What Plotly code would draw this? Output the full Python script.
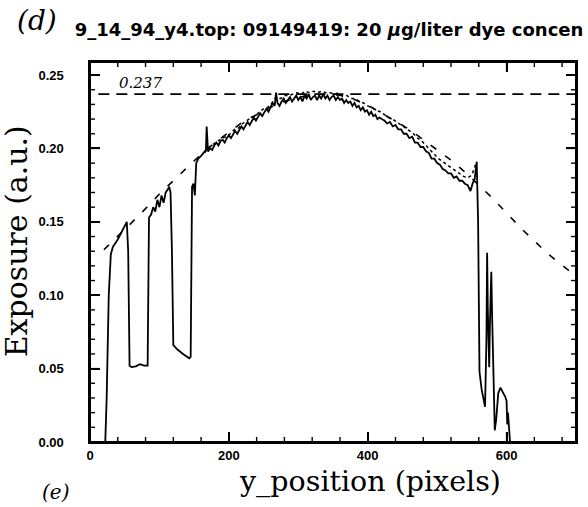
import plotly.graph_objects as go

# ---- solid trace (scan profile) ----
solid_x = [0, 22, 24, 27, 30, 33, 40, 48, 53, 55, 57, 60, 66, 72, 78, 83, 84, 85, 88, 91, 94, 97,
           100, 103, 106, 109, 112, 114, 116, 118, 120, 126, 134, 143, 145, 147, 149, 151, 153,
           156, 160, 164, 167, 168, 169,
           170, 173, 176, 179, 182, 185, 188, 191, 194, 197, 200, 203, 206, 209, 212, 215, 218,
           221, 224, 227, 230, 233, 236, 239, 242, 245, 248, 251, 254, 257, 260, 263, 266, 268,
           270, 273, 276, 279, 282, 285, 288, 291, 294, 297, 300, 303, 306, 309, 312, 315, 318,
           321, 324, 327, 330, 333, 336, 339, 342, 345, 348, 351, 354, 357, 360, 363, 366, 369,
           372, 375, 378, 381, 384, 387, 390, 393, 396, 399, 402, 405, 408, 411, 414, 417,
           420, 424, 428, 432, 436, 440, 444, 448, 452, 456, 460, 464, 468, 472, 476, 480, 484,
           488, 492, 496, 500, 504, 508, 512, 516, 520, 524, 528, 532, 536, 540, 544, 548, 551,
           554, 557, 559, 560, 561, 564, 567, 569, 571, 572, 573, 575, 576, 578, 579, 581, 583,
           585, 588, 591, 595, 598, 600, 601, 602, 604, 605, 700]
solid_y = [0.0, 0.0, 0.03, 0.10, 0.128, 0.133, 0.138, 0.145, 0.150, 0.130, 0.052, 0.051, 0.0515,
           0.053, 0.052, 0.052, 0.12, 0.153, 0.155, 0.160, 0.157, 0.165, 0.160, 0.168, 0.163,
           0.170, 0.172, 0.174, 0.170, 0.13, 0.066, 0.063, 0.060, 0.057, 0.058, 0.174, 0.176,
           0.168, 0.190, 0.193, 0.195, 0.197, 0.199, 0.215, 0.199,
           0.198, 0.200, 0.199, 0.202, 0.204, 0.202, 0.205, 0.206, 0.204, 0.207, 0.209, 0.207,
           0.210, 0.212, 0.210, 0.213, 0.215, 0.213, 0.216, 0.218, 0.216, 0.219, 0.221, 0.219,
           0.222, 0.224, 0.222, 0.225, 0.227, 0.225, 0.228, 0.231, 0.229, 0.238,
           0.231, 0.229, 0.232, 0.234, 0.231, 0.233, 0.235, 0.232, 0.234, 0.236, 0.233, 0.235,
           0.232, 0.236, 0.234, 0.237, 0.233, 0.235, 0.236, 0.233, 0.236, 0.234, 0.237, 0.234,
           0.236, 0.233, 0.235, 0.236, 0.233, 0.235, 0.233, 0.234, 0.231, 0.233, 0.231, 0.232,
           0.229, 0.231, 0.228, 0.229, 0.226, 0.228, 0.225, 0.226, 0.223, 0.225, 0.222, 0.223,
           0.220, 0.221,
           0.220, 0.219, 0.217, 0.218, 0.215, 0.216, 0.213, 0.213, 0.210, 0.210, 0.207, 0.208,
           0.204, 0.204, 0.201, 0.201, 0.198, 0.197, 0.193, 0.193, 0.190, 0.189, 0.186, 0.185,
           0.183, 0.183, 0.180, 0.181, 0.178, 0.178, 0.176, 0.175, 0.171, 0.176,
           0.179, 0.191, 0.150, 0.080, 0.048, 0.036, 0.028, 0.024, 0.070, 0.129, 0.090, 0.051,
           0.080, 0.116, 0.090, 0.040, 0.008,
           0.015, 0.033, 0.037, 0.034, 0.031, 0.028, 0.012, 0.020, 0.006, 0.0, 0.0]

# ---- dotted trace (second scan) ----
dot_x = [165, 172, 178, 184, 190, 196, 202, 208, 214, 220, 226, 232, 238, 244, 250, 256, 262,
         268, 274, 280, 286, 292, 298, 304, 310, 316, 322, 328, 334, 340, 346, 352, 358, 364,
         370, 376, 382, 388, 394, 400, 406, 412, 418, 424, 430, 436, 442, 448, 454, 460, 466,
         472, 478, 484, 490, 496, 502, 508, 514, 520, 526, 532, 538, 544, 550, 556]
dot_y = [0.197, 0.201, 0.203, 0.205, 0.207, 0.208, 0.210, 0.213, 0.214, 0.217, 0.219, 0.221,
         0.222, 0.225, 0.227, 0.228, 0.231, 0.235, 0.234, 0.236, 0.236, 0.237, 0.238, 0.237,
         0.239, 0.238, 0.239, 0.238, 0.239, 0.238, 0.238, 0.237, 0.238, 0.236, 0.236, 0.234,
         0.234, 0.232, 0.231, 0.229, 0.228, 0.226, 0.225, 0.223, 0.221, 0.220, 0.218, 0.216,
         0.214, 0.212, 0.210, 0.207, 0.205, 0.202, 0.199, 0.196, 0.193, 0.191, 0.189, 0.187,
         0.185, 0.183, 0.181, 0.180, 0.182, 0.190]

# ---- fitted envelope (dashed) ----
fit_x = [20, 40, 60, 80, 100, 120, 140, 160, 180, 200, 220, 240, 260, 280, 300, 320, 340, 360,
         380, 400, 420, 440, 460, 480, 500, 520, 540, 560, 580, 600, 620, 640, 660, 680, 700]
fit_y = [0.131, 0.140, 0.1495, 0.159, 0.169, 0.178, 0.187, 0.196, 0.204, 0.211, 0.218, 0.223,
         0.228, 0.232, 0.2348, 0.2365, 0.237, 0.2362, 0.2335, 0.2295, 0.224, 0.219, 0.213,
         0.206, 0.199, 0.192, 0.184, 0.175, 0.166, 0.156, 0.146, 0.137, 0.128, 0.1205, 0.113]

# ---- reference level ----
ref_level = 0.237
ref_x = [12, 700]

# ---- axes ----
x_ticks = [0, 200, 400, 600]
y_ticks = [0.00, 0.05, 0.10, 0.15, 0.20, 0.25]
x_minor_step = 40
y_minor_step = 0.01
X_RANGE = [0, 700]
Y_RANGE = [0, 0.2589]

# plot-area geometry (pixels) used to size the frame tick marks in data units
PLOT_W, PLOT_H = 488, 380
MAJOR_LEN, MINOR_LEN = 10, 5
xu = (X_RANGE[1] - X_RANGE[0]) / PLOT_W   # data units per pixel, x
yu = (Y_RANGE[1] - Y_RANGE[0]) / PLOT_H   # data units per pixel, y

x_minor = [v for v in range(X_RANGE[0], X_RANGE[1] + 1, x_minor_step) if v not in x_ticks]
y_minor = [round(i * y_minor_step, 2) for i in range(int(Y_RANGE[1] / y_minor_step) + 1)
           if round(i * y_minor_step, 2) not in y_ticks]


def tick_segments():
    tx, ty = [], []
    for vals, ln in ((x_ticks, MAJOR_LEN), (x_minor, MINOR_LEN)):
        for v in vals:
            tx += [v, v, None, v, v, None]
            ty += [Y_RANGE[0], Y_RANGE[0] + ln * yu, None, Y_RANGE[1], Y_RANGE[1] - ln * yu, None]
    for vals, ln in ((y_ticks, MAJOR_LEN), (y_minor, MINOR_LEN)):
        for v in vals:
            tx += [X_RANGE[0], X_RANGE[0] + ln * xu, None, X_RANGE[1], X_RANGE[1] - ln * xu, None]
            ty += [v, v, None, v, v, None]
    return tx, ty


fig = go.Figure()
fig.add_trace(go.Scatter(x=fit_x, y=fit_y, mode="lines",
                         line=dict(color="black", width=1.6, dash="7px,11px"), showlegend=False))
fig.add_trace(go.Scatter(x=ref_x, y=[ref_level, ref_level], mode="lines",
                         line=dict(color="black", width=1.8, dash="11px,7px"), showlegend=False))
fig.add_trace(go.Scatter(x=dot_x, y=dot_y, mode="lines",
                         line=dict(color="black", width=1.5, dash="dot"), showlegend=False))
fig.add_trace(go.Scatter(x=solid_x, y=solid_y, mode="lines",
                         line=dict(color="black", width=1.8), showlegend=False))

# frame and tick marks along all four sides
fig.add_trace(go.Scatter(x=[X_RANGE[0], X_RANGE[1], X_RANGE[1], X_RANGE[0], X_RANGE[0]],
                         y=[Y_RANGE[0], Y_RANGE[0], Y_RANGE[1], Y_RANGE[1], Y_RANGE[0]],
                         mode="lines", line=dict(color="black", width=2), cliponaxis=False,
                         showlegend=False, hoverinfo="skip"))
tx, ty = tick_segments()
fig.add_trace(go.Scatter(x=tx, y=ty, mode="lines", line=dict(color="black", width=1.4),
                         cliponaxis=False, connectgaps=False, showlegend=False, hoverinfo="skip"))

tickfont = dict(family="Liberation Sans", size=13, color="black")
pad = "\u00a0" * 6
serif = "DejaVu Serif"

fig.update_layout(
    xaxis=dict(range=X_RANGE, tickmode="array", tickvals=x_ticks,
               ticktext=[f"<b>{v}</b>" for v in x_ticks],
               ticks="inside", ticklen=10, tickwidth=1.5, tickcolor="black",
               showline=True, linecolor="black", linewidth=2, mirror="ticks",
               showgrid=False, zeroline=False, tickfont=tickfont),
    yaxis=dict(range=Y_RANGE, tickmode="array", tickvals=y_ticks,
               ticktext=[f"<b>{v:.2f}</b>{pad}" for v in y_ticks],
               ticks="inside", ticklen=10, tickwidth=1.5, tickcolor="black",
               showline=True, linecolor="black", linewidth=2, mirror="ticks",
               showgrid=False, zeroline=False, tickfont=tickfont),
    title=dict(text="<b>9_14_94_y4.top: 09149419: 20 <i>μ</i>g/liter dye concen</b>",
               x=329 / 588, xanchor="center", y=1 - 30 / 507, yanchor="middle",
               font=dict(family="DejaVu Sans", size=18, color="black")),
    width=588, height=507,
    margin=dict(l=90, r=10, t=62, b=65),
    plot_bgcolor="white", paper_bgcolor="white",
    annotations=[
        dict(text="<i>(d)</i>", xref="paper", yref="paper", x=(37 - 90) / 488, y=(442 - 20) / 380,
             showarrow=False, xanchor="center", yanchor="middle",
             font=dict(family=serif, size=28, color="black")),
        dict(text="<i>(e)</i>", xref="paper", yref="paper", x=(55 - 90) / 488, y=(442 - 492) / 380,
             showarrow=False, xanchor="center", yanchor="middle",
             font=dict(family=serif, size=20, color="black")),
        dict(text="<i>0.237</i>", xref="x", yref="y", x=73, y=0.2447, showarrow=False,
             font=dict(family=serif, size=15, color="black")),
        dict(text="Exposure (a.u.)", xref="paper", yref="paper", x=(16 - 90) / 488, y=(442 - 241) / 380,
             textangle=-90, showarrow=False, xanchor="center", yanchor="middle",
             font=dict(family=serif, size=30, color="black")),
        dict(text="y_position (pixels)", xref="paper", yref="paper", x=(371 - 90) / 488, y=(442 - 482) / 380,
             showarrow=False, xanchor="center", yanchor="middle",
             font=dict(family=serif, size=28.5, color="black")),
    ],
)

fig.write_html("out.html")
